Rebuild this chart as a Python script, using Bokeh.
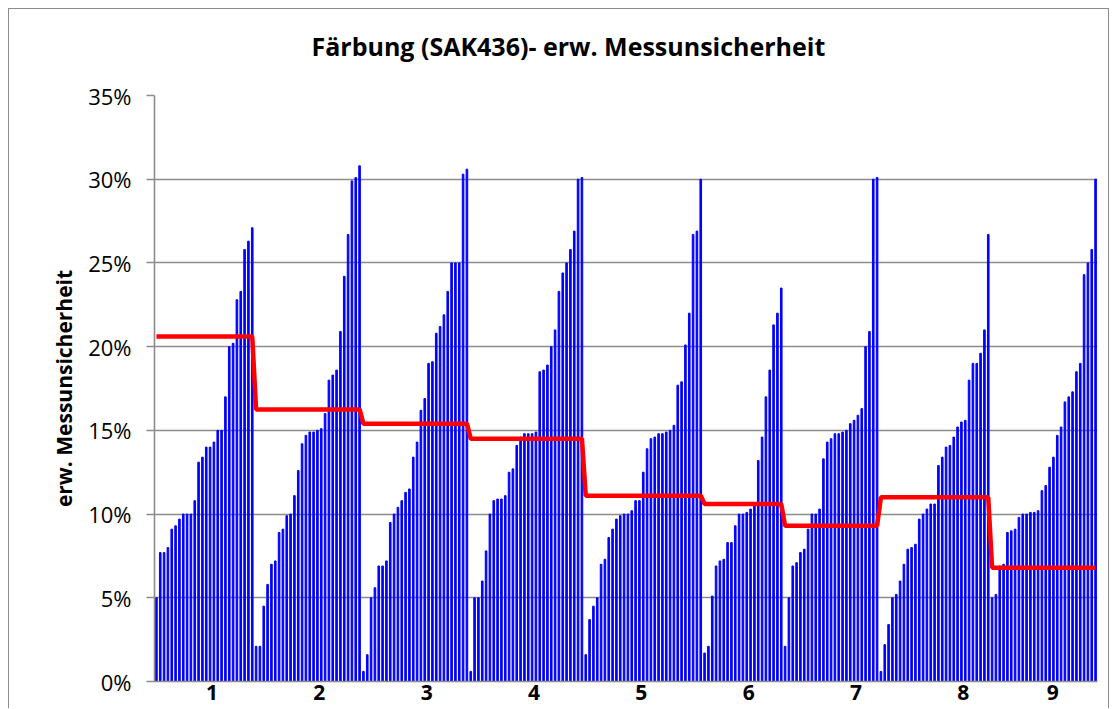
from bokeh.plotting import figure
from bokeh.models import Range1d, FixedTicker, PrintfTickFormatter, Title, ColumnDataSource
from bokeh.embed import file_html
from bokeh.resources import INLINE

title_text = "Färbung (SAK436)- erw. Messunsicherheit"
y_title = "erw. Messunsicherheit"
group_labels = ["1", "2", "3", "4", "5", "6", "7", "8", "9"]

# sorted single values per group (percent)
g1 = [5.0, 7.7, 7.7, 8.0, 9.1, 9.3, 9.7, 10.0, 10.0, 10.0, 10.8, 13.1, 13.4, 14.0, 14.0, 14.3,
      15.0, 15.0, 17.0, 20.0, 20.2, 22.8, 23.3, 25.8, 26.3, 27.1]
g2 = [2.1, 2.1, 4.5, 5.8, 7.0, 7.2, 8.9, 9.1, 9.9, 10.0, 11.1, 12.6, 14.2, 14.7, 14.9, 14.9,
      15.0, 15.1, 16.0, 18.0, 18.3, 18.6, 20.9, 24.2, 26.7, 29.9, 30.1, 30.8]
g3 = [0.6, 1.6, 5.0, 5.6, 6.9, 6.9, 7.2, 9.5, 10.0, 10.4, 10.8, 11.3, 11.5, 13.4, 14.3, 16.2,
      16.9, 19.0, 19.1, 20.8, 21.2, 21.9, 23.3, 25.0, 25.0, 25.0, 30.3, 30.6]
g4 = [0.6, 5.0, 5.0, 6.0, 7.8, 10.0, 10.8, 10.9, 10.9, 11.1, 12.5, 12.7, 14.1, 14.6, 14.8, 14.8,
      14.8, 14.9, 18.5, 18.6, 18.9, 20.0, 21.0, 23.3, 24.4, 25.0, 25.8, 26.9, 30.0, 30.1]
g5 = [1.6, 3.7, 4.5, 5.0, 7.0, 7.3, 8.6, 9.1, 9.7, 9.9, 10.0, 10.0, 10.2, 10.8, 10.8, 12.5,
      13.9, 14.5, 14.6, 14.8, 14.8, 14.9, 15.0, 15.3, 17.7, 17.9, 20.1, 22.0, 26.7, 26.9, 30.0]
g6 = [1.7, 2.1, 5.1, 6.9, 7.2, 7.3, 8.3, 8.3, 9.3, 10.0, 10.0, 10.1, 10.3, 10.5, 13.2, 14.6,
      17.0, 18.6, 21.3, 22.0, 23.5]
g7 = [2.1, 5.0, 6.9, 7.1, 7.7, 7.9, 9.1, 10.0, 10.0, 10.3, 13.3, 14.3, 14.5, 14.8, 14.8, 14.9,
      15.0, 15.4, 15.6, 15.9, 16.3, 20.0, 20.9, 30.0, 30.1]
g8 = [0.6, 2.2, 3.4, 5.0, 5.2, 6.0, 7.0, 7.9, 8.0, 8.2, 9.7, 10.0, 10.3, 10.6, 10.6, 12.9,
      13.4, 14.0, 14.1, 14.6, 15.2, 15.5, 15.6, 18.0, 19.0, 19.0, 19.6, 21.0, 26.7]
g9 = [5.0, 5.2, 6.9, 7.0, 8.9, 9.0, 9.1, 9.8, 10.0, 10.0, 10.1, 10.1, 10.2, 11.4, 11.7, 12.8,
      13.4, 14.7, 15.2, 16.7, 17.0, 17.3, 18.5, 19.0, 24.3, 25.0, 25.8, 30.0]

# expanded uncertainty per group (percent) - red line
group_uncertainty = [20.6, 16.25, 15.4, 14.5, 11.1, 10.6, 9.3, 11.0, 6.8]

# category axis label positions (bar index)
label_positions = [14.5, 42.5, 70.5, 98.5, 126.5, 154.5, 182.5, 210.5, 233.8]

groups = [g1, g2, g3, g4, g5, g6, g7, g8, g9]
vals, red = [], []
for g, u in zip(groups, group_uncertainty):
    vals.extend(g)
    red.extend([u] * len(g))
xs = list(range(len(vals)))
n = len(vals)

src = ColumnDataSource(dict(x=xs, v=vals, r=red))

p = figure(width=1101, height=700, output_backend="svg", toolbar_location=None,
           x_range=Range1d(-0.5, n - 0.5), y_range=Range1d(0, 35),
           min_border_left=145, min_border_right=13, min_border_top=86, min_border_bottom=28)
p.outline_line_color = None
p.background_fill_color = "white"
p.border_fill_color = "white"
p.styles = {"margin-left": "8px", "margin-top": "8px",
            "border-left": "1px solid #8c8c8c", "border-top": "1px solid #8c8c8c",
            "border-right": "1px solid #8c8c8c"}

# spacer between frame and title
p.add_layout(Title(text=" ", text_font_size="1px", standoff=30), "above")
p.title = Title(text=title_text, align="left", offset=157, vertical_align="bottom",
                standoff=0, text_font="Open Sans", text_font_style="bold",
                text_font_size="25px", text_color="#000000")

p.vbar(x="x", top="v", bottom=0, width=0.42, source=src, color="#0000ff")
p.line(x="x", y="r", source=src, line_color="#ff0000", line_width=4.5)

grid_col = "#8c8c8c"
p.xgrid.grid_line_color = None
p.ygrid.grid_line_color = grid_col
p.ygrid.grid_line_width = 1.6
p.ygrid.ticker = FixedTicker(ticks=[0, 5, 10, 15, 20, 25, 30, 35])

ya = p.yaxis[0]
ya.ticker = FixedTicker(ticks=[0, 5, 10, 15, 20, 25, 30, 35])
ya.formatter = PrintfTickFormatter(format="%d%%")
ya.axis_line_color = grid_col
ya.axis_line_width = 1.6
ya.major_tick_line_color = grid_col
ya.major_tick_line_width = 1.6
ya.major_tick_in = 0
ya.major_tick_out = 8
ya.minor_tick_line_color = None
ya.major_label_standoff = 15
ya.major_label_text_font = "Open Sans"
ya.major_label_text_font_size = "22px"
ya.major_label_text_color = "#000000"
ya.axis_label = y_title
ya.axis_label_text_font = "Open Sans"
ya.axis_label_text_font_style = "bold"
ya.axis_label_text_font_size = "21px"
ya.axis_label_text_color = "#000000"
ya.axis_label_standoff = 7

xa = p.xaxis[0]
xa.ticker = FixedTicker(ticks=label_positions)
xa.major_label_overrides = {pos: lab for pos, lab in zip(label_positions, group_labels)}
xa.axis_line_color = grid_col
xa.axis_line_width = 1.6
xa.major_tick_line_color = None
xa.major_tick_in = 0
xa.major_tick_out = 0
xa.minor_tick_line_color = None
xa.major_label_standoff = 3
xa.major_label_text_font = "Open Sans"
xa.major_label_text_font_style = "bold"
xa.major_label_text_font_size = "21px"
xa.major_label_text_color = "#000000"

open("out.html", "w").write(file_html(p, INLINE))
